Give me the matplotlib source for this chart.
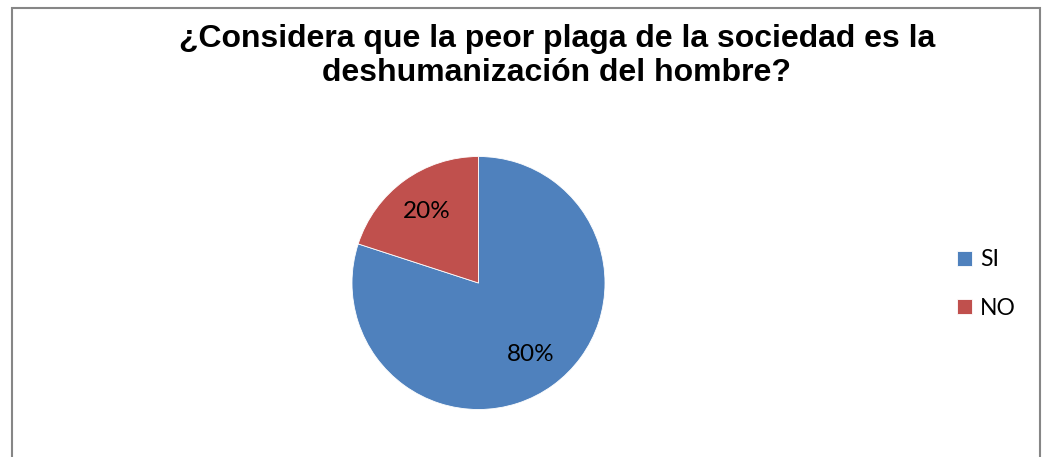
import matplotlib
matplotlib.use("Agg")
import matplotlib.pyplot as plt
from matplotlib.patches import Rectangle

TITLE = "¿Considera que la peor plaga de la sociedad es la\ndeshumanización del hombre?"
labels = ["SI", "NO"]
values = [80, 20]
colors = ["#4F81BD", "#C0504D"]

W, H = 1043, 457
fig = plt.figure(figsize=(W / 100, H / 100), dpi=100)

# chart border (bottom edge falls outside the image)
fig.patches.append(Rectangle((12 / W, -0.05), (1040 - 12) / W, 1.05 - 8 / H,
                             transform=fig.transFigure, fill=False,
                             edgecolor="#868686", linewidth=1.5))

fig.text(557 / W, 1 - 56 / H, TITLE, ha="center", va="center", multialignment="center",
         fontsize=23, fontweight="bold", family="Liberation Sans", linespacing=1.2)

# pie centre ~ (478.5, 283) px, radius ~126.5 px
cx, cy, r = 478.5, 283, 126.5
ax = fig.add_axes([(cx - r) / W, (H - cy - r) / H, 2 * r / W, 2 * r / H])
wedges, texts, autotexts = ax.pie(values, colors=colors, startangle=90, counterclock=False,
                                  autopct="%1.0f%%", pctdistance=0.7,
                                  wedgeprops=dict(linewidth=0.6, edgecolor="white"),
                                  textprops=dict(fontsize=17.5, family="Lato", color="black"))
ax.set_xlim(-1, 1)
ax.set_ylim(-1, 1)
ax.set_aspect("auto")

fig.legend(wedges, labels, loc="center left", bbox_to_anchor=(957 / W, 1 - 284 / H),
           frameon=False, prop=dict(family="Lato", size=16.5), borderaxespad=0, borderpad=0,
           handlelength=0.65, handleheight=0.65, handletextpad=0.35, labelspacing=1.2)

fig.savefig("out.png", dpi=100)
